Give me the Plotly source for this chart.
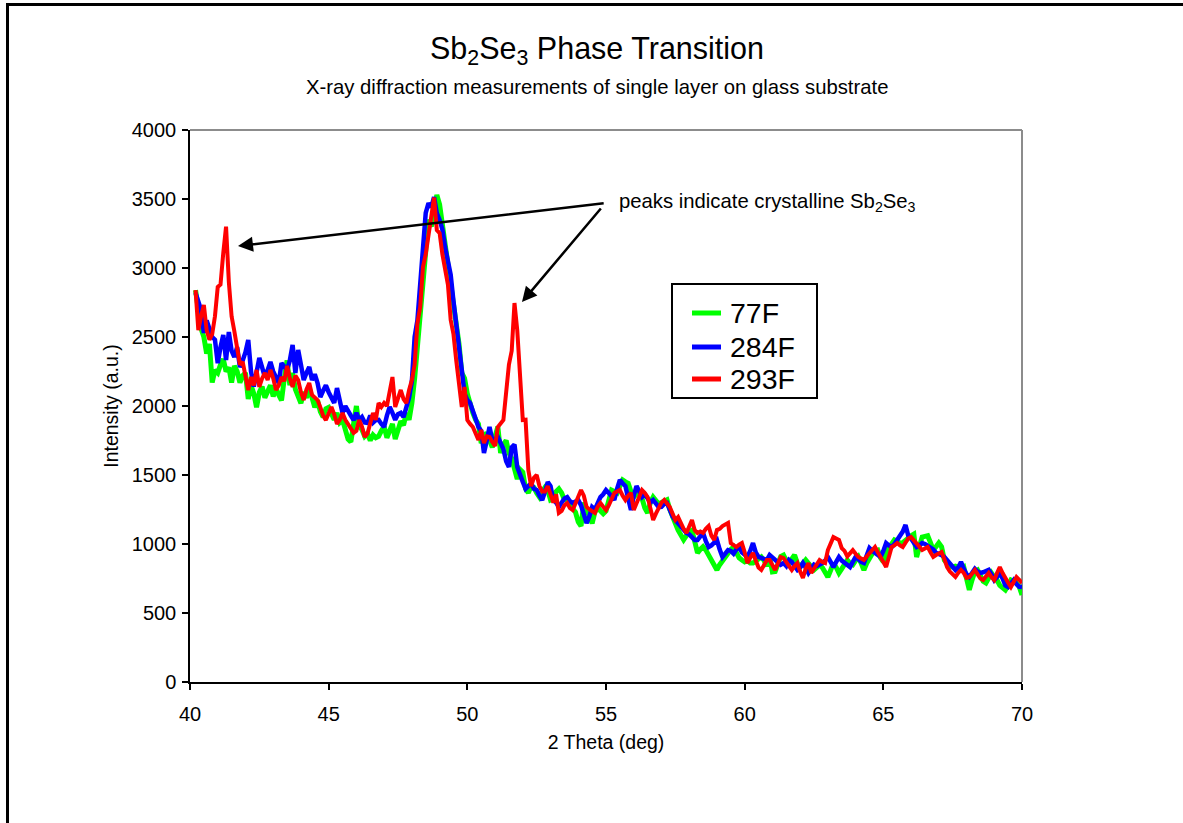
import plotly.graph_objects as go

# 2-theta sampling: 40.2 .. 70.0 deg in 0.1 deg steps
THETA_START = 40.2
THETA_STEP = 0.1

# 77F (green)
i77 = [
    2840, 2720, 2560, 2500, 2380, 2450, 2170, 2260,
    2240, 2300, 2340, 2250, 2280, 2170, 2290, 2250, 2170, 2220,
    2240, 2050, 2150, 2090, 1990, 2100, 2140, 2060, 2100, 2150,
    2070, 2130, 2080, 2040, 2200, 2330, 2150, 2240, 2120, 2060,
    2020, 2100, 2060, 2130, 2050, 1990, 2040, 1960, 1920, 1980,
    1990, 1940, 1900, 1950, 1880, 1900, 1830, 1760, 1740, 1860,
    2000, 1850, 1830, 1780, 1800, 1750, 1790, 1770, 1780, 1820,
    1850, 1770, 1830, 1870, 1760, 1820, 1890, 1860, 1950, 1900,
    2020, 2200, 2450, 2700, 2950, 3200, 3350, 3300, 3420, 3530,
    3460, 3320, 3150, 3020, 2860, 2720, 2560, 2450, 2240, 2200,
    2090, 2000, 1950, 1900, 1870, 1730, 1780, 1805, 1760, 1700,
    1780, 1850, 1660, 1720, 1750, 1660, 1620, 1530, 1470, 1540,
    1520, 1400, 1370, 1420, 1410, 1370, 1340, 1380, 1410, 1390,
    1320, 1330, 1380, 1400, 1370, 1320, 1320, 1280, 1250, 1230,
    1160, 1130, 1300, 1250, 1180, 1150, 1230, 1270, 1240, 1220,
    1240, 1330, 1390, 1380, 1370, 1420, 1464, 1450, 1440, 1380,
    1340, 1360, 1370, 1330, 1260, 1225, 1300, 1340, 1320, 1290,
    1300, 1310, 1320, 1250, 1190, 1150, 1100, 1060, 1030, 1060,
    1090, 1100, 1000, 935, 960, 980, 956, 920, 880, 860,
    812, 850, 880, 906, 930, 960, 978, 930, 900, 884,
    870, 880, 862, 862, 880, 900, 906, 880, 840, 906,
    797, 800, 860, 910, 920, 880, 862, 890, 920, 860,
    833, 860, 884, 860, 830, 812, 830, 850, 830, 790,
    761, 810, 862, 830, 790, 820, 860, 884, 860, 850,
    880, 906, 860, 812, 860, 906, 930, 950, 956, 900,
    870, 930, 978, 1000, 1029, 1020, 1007, 1010, 1030, 1050,
    1060, 1072, 906, 980, 1050, 1055, 1060, 1010, 956, 980,
    1007, 980, 884, 860, 840, 833, 840, 833, 820, 833,
    760, 667, 740, 800, 812, 770, 730, 717, 760, 790,
    760, 739, 700, 680, 667, 700, 739, 730, 717, 690,
    630,
]

# 284F (blue)
i284 = [
    2820, 2750, 2695, 2530, 2620, 2560, 2500, 2480,
    2310, 2427, 2514, 2333, 2536, 2400, 2355, 2427, 2282, 2330,
    2390, 2478, 2250, 2140, 2260, 2348, 2280, 2210, 2260, 2319,
    2250, 2200, 2167, 2311, 2280, 2261, 2330, 2442, 2239, 2406,
    2300, 2188, 2240, 2282, 2188, 2230, 2167, 2065, 2110, 2150,
    2100, 2060, 2022, 2130, 2050, 1949, 2000, 1971, 1930, 1898,
    1950, 1900, 1920, 1880, 1877, 1930, 1880, 1898, 1900, 1870,
    1848, 1930, 1993, 1950, 1900, 1940, 1950, 1920, 1993, 2060,
    2180, 2500, 2620, 2900, 3150, 3400, 3470, 3440, 3514, 3398,
    3348, 3280, 3150, 3030, 2950, 2760, 2600, 2480, 2261, 2090,
    2043, 2022, 1970, 1898, 1848, 1820, 1659, 1750, 1848, 1754,
    1760, 1775, 1720, 1688, 1600, 1558, 1700, 1720, 1558, 1490,
    1450, 1400, 1420, 1440, 1400, 1391, 1350, 1319, 1380, 1449,
    1420, 1319, 1300, 1268, 1300, 1330, 1340, 1310, 1297, 1310,
    1319, 1280, 1220, 1152, 1200, 1268, 1250, 1300, 1340, 1360,
    1391, 1370, 1340, 1319, 1400, 1464, 1440, 1420, 1330, 1246,
    1350, 1420, 1380, 1340, 1360, 1330, 1300, 1319, 1290, 1268,
    1270, 1290, 1297, 1240, 1200, 1174, 1150, 1130, 1100, 1080,
    1070, 1050, 1029, 1029, 1060, 1080, 1020, 978, 990, 1010,
    1029, 960, 906, 930, 956, 950, 930, 960, 978, 940,
    920, 906, 950, 1007, 940, 906, 900, 890, 884, 920,
    900, 884, 870, 850, 862, 840, 884, 870, 840, 812,
    830, 862, 830, 790, 820, 850, 840, 850, 862, 880,
    906, 870, 833, 870, 906, 880, 862, 850, 833, 870,
    906, 890, 870, 862, 930, 970, 950, 935, 920, 906,
    950, 1007, 990, 978, 1000, 1030, 1050, 1090, 1138, 1060,
    1040, 1000, 978, 990, 1007, 1000, 985, 978, 960, 935,
    930, 920, 906, 880, 862, 840, 812, 830, 870, 820,
    780, 761, 790, 820, 800, 790, 795, 805, 812, 780,
    739, 760, 790, 750, 700, 688, 720, 739, 710, 690,
    688,
]

# 293F (red)
i293 = [
    2840, 2550, 2650, 2732, 2550, 2480, 2520, 2650,
    2862, 2880, 3110, 3300, 2900, 2650, 2540, 2420, 2300, 2320,
    2200, 2116, 2210, 2150, 2261, 2138, 2200, 2239, 2188, 2261,
    2200, 2116, 2150, 2210, 2180, 2290, 2200, 2138, 2220, 2188,
    2100, 2043, 2120, 2167, 2080, 2065, 2043, 1990, 1930, 1898,
    1950, 1993, 1940, 1870, 1900, 1949, 1900, 1870, 1830, 1805,
    1820, 1898, 1850, 1775, 1800, 1880, 1949, 1900, 2022, 1993,
    2022, 2000, 2100, 2210, 1993, 2065, 2116, 2050, 2022, 2116,
    2188, 2300, 2600, 2717, 3007, 3100, 3250, 3400, 3510, 3275,
    3253, 3100, 2980, 2880, 2623, 2520, 2330, 2150, 1993, 2138,
    1898, 1870, 1848, 1800, 1754, 1826, 1732, 1780, 1775, 1740,
    1710, 1848, 1870, 1898, 2100, 2300, 2400, 2746, 2550, 2200,
    1898, 1900, 1536, 1420, 1480, 1500, 1420, 1380, 1380, 1420,
    1350, 1300, 1360, 1225, 1240, 1280, 1297, 1260, 1246, 1300,
    1340, 1391, 1350, 1268, 1250, 1240, 1225, 1270, 1297, 1270,
    1246, 1280, 1330, 1370, 1380, 1391, 1350, 1319, 1350, 1370,
    1246, 1290, 1340, 1391, 1370, 1340, 1260, 1174, 1220, 1268,
    1300, 1319, 1290, 1268, 1220, 1174, 1196, 1150, 1110, 1080,
    1130, 1174, 1100, 1080, 1090, 1080, 1110, 1130, 1060, 1029,
    1101, 1110, 1130, 1145, 1152, 1007, 990, 978, 995, 1007,
    940, 862, 900, 935, 880, 830, 812, 850, 884, 884,
    840, 812, 860, 906, 898, 870, 840, 812, 840, 862,
    800, 754, 820, 862, 790, 820, 860, 884, 870, 862,
    956, 1000, 1050, 1040, 1030, 970, 950, 910, 930, 956,
    930, 906, 895, 884, 910, 935, 960, 978, 940, 910,
    870, 833, 900, 978, 990, 1007, 990, 978, 1010, 1040,
    1050, 1030, 1007, 980, 956, 970, 978, 940, 906, 920,
    930, 942, 890, 833, 800, 780, 761, 790, 812, 790,
    754, 760, 790, 812, 780, 750, 739, 765, 790, 760,
    739, 790, 833, 790, 761, 720, 688, 720, 761, 740,
    717,
]

series_names = ["77F", "284F", "293F"]
series_colors = ["#00FF00", "#0000FF", "#FF0000"]
series_widths = [5, 4.5, 4]
series_values = [i77, i284, i293]

FONT = "Arial, Liberation Sans, sans-serif"

fig = go.Figure()
for name, col, w, vals in zip(series_names, series_colors, series_widths, series_values):
    xs = [round(THETA_START + THETA_STEP * k, 1) for k in range(len(vals))]
    fig.add_trace(go.Scatter(x=xs, y=vals, mode="lines", name=name,
                             line=dict(color=col, width=w), showlegend=False))

L, R, T, B = 190, 1022, 130, 682
W, H = 1183, 823
PW, PH = R - L, B - T


def px(xp):
    return (xp - L) / PW


def py(yp):
    return (B - yp) / PH


fig.update_layout(
    width=W, height=H,
    margin=dict(l=L, r=W - R, t=T, b=H - B, pad=0),
    paper_bgcolor="white", plot_bgcolor="white",
    font=dict(family=FONT, color="black", size=20),
    showlegend=False,
    xaxis=dict(range=[40, 70], dtick=5, tick0=40, showgrid=False, zeroline=False,
               showline=True, linecolor="black", linewidth=1.5,
               ticks="outside", ticklen=6, tickcolor="black", tickwidth=1.5,
               ticklabelstandoff=7,
               tickfont=dict(size=20), title=dict(text="2 Theta (deg)", font=dict(size=19.5), standoff=12)),
    yaxis=dict(range=[0, 4000], dtick=500, tick0=0, showgrid=False, zeroline=False,
               showline=True, linecolor="black", linewidth=1.5,
               ticks="outside", ticklen=6, tickcolor="black", tickwidth=1.5,
               ticklabelstandoff=2,
               tickfont=dict(size=20), title=dict(text="Intensity (a.u.)", font=dict(size=19.5), standoff=8)),
)

# gray plot-area border (top and right)
fig.add_shape(type="line", xref="paper", yref="paper", x0=0, x1=1, y0=1, y1=1,
              line=dict(color="#8c8c8c", width=2), layer="below")
fig.add_shape(type="line", xref="paper", yref="paper", x0=1, x1=1, y0=0, y1=1,
              line=dict(color="#8c8c8c", width=2), layer="below")

# outer chart frame
fig.add_shape(type="rect", xref="paper", yref="paper", x0=px(7.5), x1=1.5, y0=-0.6, y1=py(4.5),
              line=dict(color="black", width=3))

# titles
cx = px(597)
fig.add_annotation(xref="paper", yref="paper", x=cx, y=py(50),
                   text="Sb<sub>2</sub>Se<sub>3</sub> Phase Transition", showarrow=False,
                   font=dict(size=30.5, family=FONT), xanchor="center", yanchor="middle")
fig.add_annotation(xref="paper", yref="paper", x=cx, y=py(87),
                   text="X-ray diffraction measurements of single layer on glass substrate",
                   showarrow=False, font=dict(size=20.3, family=FONT),
                   xanchor="center", yanchor="middle")

# legend box
fig.add_shape(type="rect", xref="paper", yref="paper", x0=px(672), x1=px(817), y0=py(398), y1=py(284),
              line=dict(color="black", width=2), fillcolor="white")
legend_y = [313, 347, 379]
for name, col, ly in zip(series_names, series_colors, legend_y):
    fig.add_shape(type="line", xref="paper", yref="paper", x0=px(692), x1=px(721),
                  y0=py(ly), y1=py(ly), line=dict(color=col, width=5))
    fig.add_annotation(xref="paper", yref="paper", x=px(728), y=py(ly), text=name,
                       showarrow=False, xanchor="left", yanchor="middle",
                       font=dict(size=28.5, family=FONT))

# arrows
fig.add_annotation(x=41.73, y=3159, ax=54.97, ay=3471, xref="x", yref="y", axref="x", ayref="y",
                   text="", showarrow=True, arrowhead=2, arrowsize=1.2, arrowwidth=2.5,
                   arrowcolor="black")
fig.add_annotation(x=51.97, y=2753, ax=54.86, ay=3442, xref="x", yref="y", axref="x", ayref="y",
                   text="", showarrow=True, arrowhead=2, arrowsize=1.2, arrowwidth=2.5,
                   arrowcolor="black")
fig.add_annotation(x=55.4, y=3478, xref="x", yref="y", showarrow=False, xanchor="left",
                   yanchor="middle",
                   text="peaks indicate crystalline Sb<sub>2</sub>Se<sub>3</sub>",
                   font=dict(size=20.3, family=FONT))

fig.write_html("out.html")
